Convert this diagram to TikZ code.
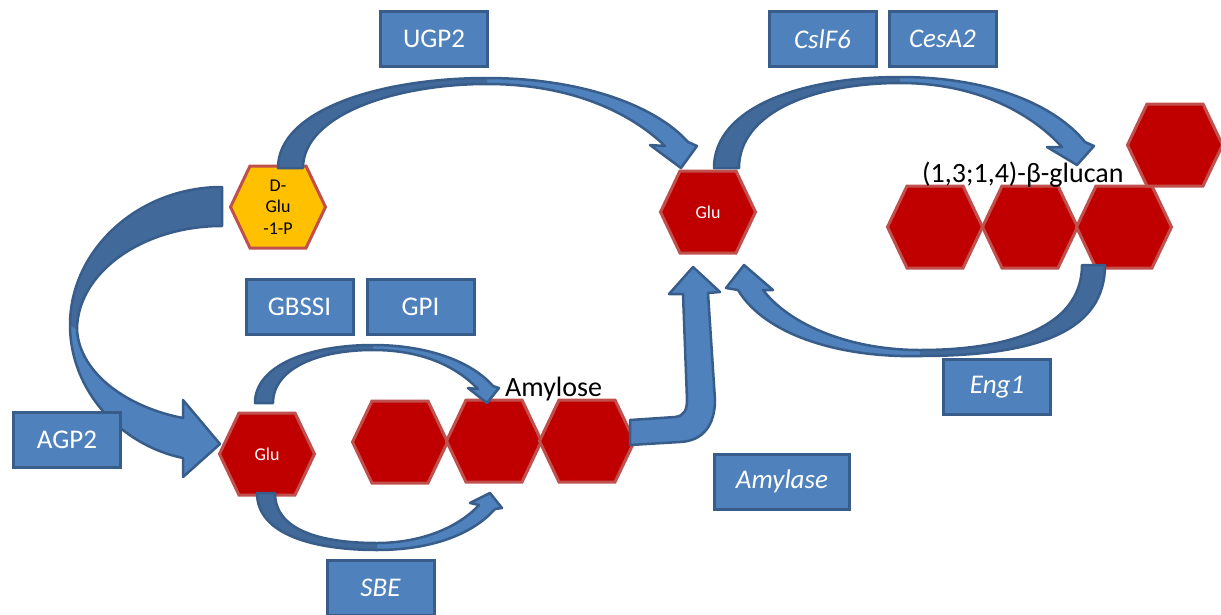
\documentclass[tikz,border=0pt]{standalone}
\usepackage{fontspec}
\setmainfont{Carlito}
\definecolor{boxfill}{HTML}{4F81BD}
\definecolor{boxline}{HTML}{385D8A}
\definecolor{arrowdark}{HTML}{41699A}
\definecolor{hexred}{HTML}{C00000}
\definecolor{hexline}{HTML}{C0504D}
\definecolor{hexyellow}{HTML}{FFC000}
\tikzset{
  enzyme/.style={draw=boxline, fill=boxfill, line width=3pt, minimum width=107pt,
    minimum height=55pt, inner sep=0pt, text=white, font=\fontsize{27}{32}\selectfont},
  hexborder/.style={draw=hexline, line width=3pt, line join=miter},
  hexlabel/.style={font=\fontsize{18}{21.5}\selectfont, align=center, inner sep=0pt},
  flowarrow/.style={draw=boxline, fill=boxfill, line width=2.5pt, line join=round},
  arrowedge/.style={draw=boxline, line width=2.5pt, line join=round},
  darkpart/.style={fill=arrowdark},
  bigtext/.style={font=\fontsize{28}{33}\selectfont, anchor=base west, inner sep=0pt}
}
\newcommand\hexcell[6]{%
  \begin{scope}[shift={(#2,#3)}]
    \draw[hexborder, fill=#4] (-47.5,0) -- (-28,-41) -- (28,-41) -- (47.5,0) -- (28,41) -- (-28,41) -- cycle;
    \node[hexlabel, text=#5] (#1) at (0,0) {#6};
  \end{scope}}
\begin{document}
\begin{tikzpicture}[x=1pt,y=-1pt]
\useasboundingbox (0,0) rectangle (1221,614);

% hexagons
\hexcell{dglu}{278}{207}{hexyellow}{black}{D-\\Glu\\-1-P}
\hexcell{glutop}{708}{212}{hexred}{white}{Glu}
\hexcell{glubot}{267}{454}{hexred}{white}{Glu}
\hexcell{amA}{400}{442}{hexred}{white}{}
\hexcell{amB}{494}{441}{hexred}{white}{}
\hexcell{amC}{587}{441}{hexred}{white}{}
\hexcell{bgA}{935}{227}{hexred}{white}{}
\hexcell{bgB}{1030}{227}{hexred}{white}{}
\hexcell{bgC}{1124}{227}{hexred}{white}{}
\hexcell{bgD}{1175}{145}{hexred}{white}{}

% UGP2 arrow
\fill[boxfill] (278,168) .. controls (278,110) and (380,78) .. (487,78) .. controls (580,78) and (655,105) .. (688,142) -- (697,146) -- (681,168) -- (650,145) -- (665,146) .. controls (630,112) and (570,84) .. (487,84) .. controls (395,84) and (303,115) .. (303,168) -- cycle;
\fill[darkpart] (278,168) .. controls (278,110) and (380,78) .. (487,78) -- (487,84) .. controls (395,84) and (303,115) .. (303,168) -- cycle;
\draw[arrowedge] (278,168) .. controls (278,110) and (380,78) .. (487,78) .. controls (580,78) and (655,105) .. (688,142) -- (697,146) -- (681,168) -- (650,145) -- (665,146) .. controls (630,112) and (570,84) .. (487,84) .. controls (395,84) and (303,115) .. (303,168) -- cycle;

% CslF6 / CesA2 arrow
\fill[boxfill] (714,168) .. controls (714,108) and (800,77) .. (900,77) .. controls (990,77) and (1055,105) .. (1085,142) -- (1094,146) -- (1077,165) -- (1047,147) -- (1062,147) .. controls (1030,112) and (975,83) .. (900,83) .. controls (815,83) and (739,112) .. (739,168) -- cycle;
\fill[darkpart] (714,168) .. controls (714,108) and (800,77) .. (900,77) -- (900,83) .. controls (815,83) and (739,112) .. (739,168) -- cycle;
\draw[arrowedge] (714,168) .. controls (714,108) and (800,77) .. (900,77) .. controls (990,77) and (1055,105) .. (1085,142) -- (1094,146) -- (1077,165) -- (1047,147) -- (1062,147) .. controls (1030,112) and (975,83) .. (900,83) .. controls (815,83) and (739,112) .. (739,168) -- cycle;

% AGP2 arrow
\fill[boxfill] (222,187) .. controls (138,187) and (70,250) .. (70,325) .. controls (70,390) and (120,445) .. (183,458) -- (183,477) -- (220,444) -- (183,400) -- (183,418) .. controls (130,408) and (80,375) .. (77,330) .. controls (77,273) and (142,226) .. (222,226) -- cycle;
\fill[darkpart] (222,187) .. controls (138,187) and (70,250) .. (70,325) -- (77,330) .. controls (77,273) and (142,226) .. (222,226) -- cycle;
\draw[arrowedge] (222,187) .. controls (138,187) and (70,250) .. (70,325) .. controls (70,390) and (120,445) .. (183,458) -- (183,477) -- (220,444) -- (183,400) -- (183,418) .. controls (130,408) and (80,375) .. (77,330) .. controls (77,273) and (142,226) .. (222,226) -- cycle;

% GBSSI / GPI arrow
\fill[boxfill] (255,403) .. controls (255,365) and (310,345) .. (373,345) .. controls (425,345) and (470,360) .. (493,386) -- (499,388) -- (487,403) -- (468,388) -- (478,389) .. controls (455,365) and (420,350) .. (373,350) .. controls (315,350) and (273,370) .. (273,403) -- cycle;
\fill[darkpart] (255,403) .. controls (255,365) and (310,345) .. (373,345) -- (373,350) .. controls (315,350) and (273,370) .. (273,403) -- cycle;
\draw[arrowedge] (255,403) .. controls (255,365) and (310,345) .. (373,345) .. controls (425,345) and (470,360) .. (493,386) -- (499,388) -- (487,403) -- (468,388) -- (478,389) .. controls (455,365) and (420,350) .. (373,350) .. controls (315,350) and (273,370) .. (273,403) -- cycle;

% SBE arrow
\fill[boxfill] (257,493) .. controls (257,535) and (315,550) .. (377,550) .. controls (430,550) and (472,535) .. (495,509) -- (502,508) -- (490,493) -- (470,503) -- (479,505) .. controls (458,528) and (420,543) .. (377,543) .. controls (320,543) and (275,530) .. (275,493) -- cycle;
\fill[darkpart] (257,493) .. controls (257,535) and (315,550) .. (377,550) -- (377,543) .. controls (320,543) and (275,530) .. (275,493) -- cycle;
\draw[arrowedge] (257,493) .. controls (257,535) and (315,550) .. (377,550) .. controls (430,550) and (472,535) .. (495,509) -- (502,508) -- (490,493) -- (470,503) -- (479,505) .. controls (458,528) and (420,543) .. (377,543) .. controls (320,543) and (275,530) .. (275,493) -- cycle;

% Amylase arrow (bent up)
\draw[flowarrow] (630,420) -- (675,417) .. controls (684,416) and (687,410) .. (687,400) -- (683,294) -- (669,294) -- (693,267) -- (720,292) -- (708,293) -- (715,400) .. controls (715,425) and (703,441) .. (680,442) -- (630,445) -- cycle;

% Eng1 arrow
\fill[boxfill] (1105,265) .. controls (1105,330) and (1040,356) .. (920,356) .. controls (840,358) and (765,335) .. (738,290) -- (726,288) -- (744,265) -- (773,290) -- (763,290) .. controls (790,325) and (850,350) .. (920,350) .. controls (1020,350) and (1082,322) .. (1082,265) -- cycle;
\fill[darkpart] (1105,265) .. controls (1105,330) and (1040,356) .. (920,356) -- (920,350) .. controls (1020,350) and (1082,322) .. (1082,265) -- cycle;
\draw[arrowedge] (1105,265) .. controls (1105,330) and (1040,356) .. (920,356) .. controls (840,358) and (765,335) .. (738,290) -- (726,288) -- (744,265) -- (773,290) -- (763,290) .. controls (790,325) and (850,350) .. (920,350) .. controls (1020,350) and (1082,322) .. (1082,265) -- cycle;

% enzyme boxes
\node[enzyme] (ugp) at (434,39) {UGP2};
\node[enzyme] (cslf) at (822.5,39) {\itshape CslF6};
\node[enzyme] (cesa) at (942.5,39) {\itshape CesA2};
\node[enzyme] (gbssi) at (299.5,306.5) {GBSSI};
\node[enzyme] (gpi) at (420.5,306.5) {GPI};
\node[enzyme] (agp) at (67,440) {AGP2};
\node[enzyme] (sbe) at (380.5,588) {\itshape SBE};
\node[enzyme, minimum width=135pt] (amylase) at (782,481.5) {\itshape Amylase};
\node[enzyme] (eng) at (997,387) {\itshape Eng1};

% product labels
\node[bigtext] (amylose) at (505,396) {Amylose};
\node[bigtext] (glucan) at (922,182) {(1,3;1,4)-β-glucan};
\end{tikzpicture}
\end{document}
